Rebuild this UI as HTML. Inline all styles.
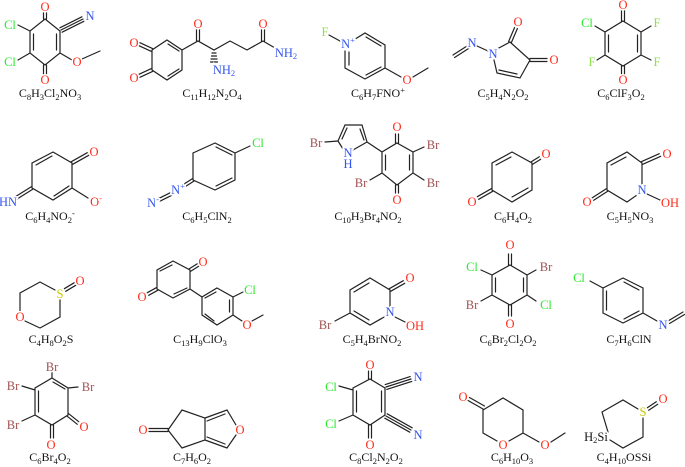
<!DOCTYPE html>
<html><head><meta charset="utf-8"><style>
html,body{margin:0;padding:0;background:#fff}
svg{display:block}
.a{font-family:"Liberation Serif",serif;font-size:12.5px;text-anchor:middle;dominant-baseline:central;paint-order:stroke;stroke:#fff;stroke-width:3px}
.f{font-family:"Liberation Serif",serif;font-size:12px;text-anchor:middle;fill:#111}
.s{font-size:8.5px}
.O{fill:#ff2a1a}.N{fill:#3355ee}.Cl{fill:#2ee82e}.F{fill:#90e050}.Br{fill:#a05050}.S{fill:#c8c800}.K{fill:#111}
</style></head><body>
<svg width="685" height="467" viewBox="0 0 685 467" xmlns="http://www.w3.org/2000/svg">
<g stroke="#222" stroke-width="1.2" fill="none" stroke-linecap="round">
<!-- mol1 -->
<path d="M45,19L60,31L60,53L45,65L30,53L30,31Z M33.5,34V50 M56.5,34V50 M43.5,19V12 M46.5,19V12 M43.5,65V74 M46.5,65V74 M30,31L18,25 M30,53L18,60 M61,30L83,19 M62.1,32.2L84.1,21.2 M59.9,27.8L81.9,16.8 M60,53L72,60 M82,59L100,51"/>
<!-- mol2 -->
<path d="M167,40L182,50L182,70L167,80L152,70L152,50Z M168,44L179,51 M179,69L168,76 M152.6,48.6L139.6,42.6 M151.4,51.4L138.4,45.4 M151.4,68.6L138.4,74.6 M152.6,71.4L139.6,77.4 M182,50L198,41L214,50L230,41L247,50L263,41 M196.5,41V29 M199.5,41V29 M261.5,41V29 M264.5,41V29 M263,41L275,48 M212,53H216 M211.5,56H216.5 M211,59H217 M210.5,62H217.5"/>
<!-- mol3 -->
<path d="M329,35L340,41 M352,41L365,33L385,45L385,68L365,79L345,68L345,51 M349,52V65 M366,37L381,46 M381,67L366,75 M385,68L401,77 M413,77L428,68"/>
<!-- mol4 -->
<path d="M453,55L467,46 M454.6,57.5L468.6,48.5 M477,46L488,51 M497,49L510,42L530,60L520,78L497,73L494,60 M517,74L499,70 M508.6,41.5L514.6,27.5 M511.4,42.5L517.4,28.5 M530,58.5H547 M530,61.5H547"/>
<!-- mol5 -->
<path d="M623,21L641,32L641,55L623,66L605,55L605,32Z M608.5,35V52 M637.5,35V52 M621.5,21V10 M624.5,21V10 M621.5,66V74 M624.5,66V74 M605,32L595,26 M641,32L651,26 M605,55L597,60 M641,55L651,60"/>
<!-- mol6 -->
<path d="M53,152L72,163L72,188L53,200L32,188L32,163Z M36,165L52,156 M69,186L54,196 M71.3,161.7L87.3,152.7 M72.7,164.3L88.7,155.3 M72,188L88,198 M32.7,189.3L16.7,199.3 M31.3,186.7L15.3,196.7"/>
<!-- mol7 -->
<path d="M215,143L235,153L235,180L215,190L193,180L193,153Z M216,147L232,155 M232,178L216,186 M192.3,178.7L181.3,185.7 M193.7,181.3L182.7,188.3 M170.3,192.7L158.3,198.7 M171.7,195.3L159.7,201.3 M235,153L250,146"/>
<!-- mol8 -->
<path d="M325,142L338,141L345,125L362,125L367,142L353,150 M338,141L343,149 M342,139L347,128 M360,129L364,140 M367,142L382,152 M397,143L413,152L413,173L397,185L382,173L382,152Z M385.5,155V170 M409.5,155V170 M395.5,143V134 M398.5,143V134 M395.5,185V193 M398.5,185V193 M413,152L424,147 M413,173L424,180 M382,173L370,180"/>
<!-- mol9 -->
<path d="M512,152L532,163L532,190L512,202L492,190L492,163Z M496,165L511,157 M512,197L528,188 M531.3,161.7L539.3,156.7 M532.7,164.3L540.7,159.3 M491.3,188.7L477.3,196.7 M492.7,191.3L478.7,199.3"/>
<!-- mol10 -->
<path d="M642,184L642,163L627,152L607,163L607,190L627,202L637,195 M611,165L626,157 M641.3,161.7L659.3,153.7 M642.7,164.3L660.7,156.3 M606.3,188.7L592.3,197.7 M607.7,191.3L593.7,200.3 M647,194L660,200"/>
<!-- mol11 -->
<path d="M55,290L40,282L20,293L20,311 M25,321L40,328L60,317L60,299 M64.3,288.7L74.3,282.7 M65.7,291.3L75.7,285.3"/>
<!-- mol12 -->
<path d="M173,261L190,270L190,289L173,298L157,289L157,270Z M160,271L172,265 M187,288L174,294 M189.3,268.7L197.3,263.7 M190.7,271.3L198.7,266.3 M156.3,287.7L147.3,292.7 M157.7,290.3L148.7,295.3 M190,289L202,297 M217,288L233,297L233,315L217,325L202,315L202,297Z M229.5,300V312 M214,321L205,314 M205,298L216,292 M233,297L243,292 M233,315L242,321 M252,321L263,315"/>
<!-- mol13 -->
<path d="M390,307L390,290L370,278L350,290L350,313L370,325L386,316 M354,292L369,283 M354,311L369,320 M389.3,288.7L403.3,280.7 M390.7,291.3L404.7,283.3 M395,317L405,322 M350,313L335,321"/>
<!-- mol14 -->
<path d="M510,265L527,275L527,295L510,305L492,295L492,275Z M495.5,278V292 M523.5,278V292 M508.5,265V254 M511.5,265V254 M508.5,305V316 M511.5,305V316 M492,275L481,270 M527,275L536,270 M492,295L481,301 M527,295L536,301"/>
<!-- mol15 -->
<path d="M623,278L643,288L643,313L623,323L603,313L603,288Z M624,282L639,290 M639,311L624,319 M606.5,291V310 M603,288L590,281 M643,313L657,321 M668,321L683,312 M669.5,323.5L684.5,314.5"/>
<!-- mol16 -->
<path d="M52,378L68,388L68,415L52,425L35,415L35,388Z M53,382L65,389 M38.5,391V412 M52,378V372 M35,390L22,386 M35,415L22,421 M68,388L78,387 M50.5,425V438 M53.5,425V438 M67.3,416.3L77.3,424.3 M68.7,413.7L78.7,421.7"/>
<!-- mol17 -->
<path d="M149,428.5H168 M149,431.5H168 M168,430L182,410L205,418L205,440L182,448L168,430 M205,418L227,410L236,425 M236,435L227,448L205,440 M207,421L225,414 M207,437L225,444"/>
<!-- mol18 -->
<path d="M370,379L385,388L385,415L370,425L353,415L353,388Z M356.5,391V412 M381.5,391V412 M368.5,379V371 M371.5,379V371 M368.5,425V438 M371.5,425V438 M353,390L339,386 M353,415L339,421 M386,387L411,379 M386.8,389.4L411.8,381.4 M385.2,384.6L410.2,376.6 M386,416L411,430 M384.8,418.2L409.8,432.2 M387.2,413.8L412.2,427.8"/>
<!-- mol19 -->
<path d="M468,400.5L483,409 M469.5,397.5L484.5,406 M483,410L503,398L523,410L523,433L509,441 M497,441L483,433L483,410 M523,433L539,442 M551,442L565,433"/>
<!-- mol20 -->
<path d="M608,432L602,412L623,400L638,409 M643,418L643,437L623,448L610,440 M647.3,407.7L656.3,401.7 M648.7,410.3L657.7,404.3"/>
</g>
<g class="lbl">
<!-- mol1 -->
<text class="a O" x="45" y="7">O</text><text class="a O" x="45" y="80">O</text>
<text class="a Cl" x="10" y="25">Cl</text><text class="a Cl" x="10" y="62">Cl</text>
<text class="a N" x="90" y="16">N</text><text class="a O" x="77" y="62">O</text>
<!-- mol2 -->
<text class="a O" x="134" y="43">O</text><text class="a O" x="134" y="78">O</text>
<text class="a O" x="198" y="24">O</text><text class="a O" x="263" y="24">O</text>
<text class="a N" x="286" y="53">NH<tspan class="s" dy="3">2</tspan></text>
<text class="a N" x="224" y="70">NH<tspan class="s" dy="3">2</tspan></text>
<!-- mol3 -->
<text class="a F" x="325" y="32">F</text>
<text class="a N" x="348" y="44">N<tspan class="s" dy="-4">+</tspan></text>
<text class="a O" x="407" y="80">O</text>
<!-- mol4 -->
<text class="a N" x="472" y="43">N</text><text class="a N" x="493" y="54">N</text>
<text class="a O" x="518" y="22">O</text><text class="a O" x="554" y="60">O</text>
<!-- mol5 -->
<text class="a O" x="623" y="5">O</text><text class="a O" x="623" y="80">O</text>
<text class="a Cl" x="587" y="23">Cl</text><text class="a F" x="657" y="23">F</text>
<text class="a F" x="592" y="62">F</text><text class="a F" x="657" y="62">F</text>
<!-- mol6 -->
<text class="a O" x="94" y="152">O</text>
<text class="a O" x="96" y="202">O<tspan class="s" dy="-4">-</tspan></text>
<text class="a N" x="8" y="202">HN</text>
<!-- mol7 -->
<text class="a Cl" x="258" y="143">Cl</text>
<text class="a N" x="178" y="190">N<tspan class="s" dy="-4">+</tspan></text>
<text class="a N" x="153" y="203">N<tspan class="s" dy="-4">-</tspan></text>
<!-- mol8 -->
<text class="a Br" x="316" y="143">Br</text>
<text class="a N" x="348" y="153">N</text><text class="a N" x="348" y="164">H</text>
<text class="a O" x="397" y="127">O</text><text class="a O" x="397" y="200">O</text>
<text class="a Br" x="433" y="145">Br</text><text class="a Br" x="433" y="183">Br</text><text class="a Br" x="361" y="183">Br</text>
<!-- mol9 -->
<text class="a O" x="546" y="154">O</text><text class="a O" x="472" y="202">O</text>
<!-- mol10 -->
<text class="a N" x="642" y="190">N</text>
<text class="a O" x="667" y="154">O</text><text class="a O" x="587" y="202">O</text>
<text class="a O" x="670" y="203">OH</text>
<!-- mol11 -->
<text class="a S" x="60" y="294">S</text><text class="a O" x="80" y="281">O</text>
<text class="a O" x="20" y="317">O</text>
<!-- mol12 -->
<text class="a O" x="203" y="262">O</text><text class="a O" x="142" y="297">O</text>
<text class="a Cl" x="250" y="290">Cl</text><text class="a O" x="247" y="325">O</text>
<!-- mol13 -->
<text class="a O" x="410" y="278">O</text><text class="a N" x="390" y="312">N</text>
<text class="a O" x="415" y="326">OH</text><text class="a Br" x="325" y="325">Br</text>
<!-- mol14 -->
<text class="a O" x="510" y="245">O</text><text class="a O" x="510" y="324">O</text>
<text class="a Cl" x="472" y="267">Cl</text><text class="a Br" x="546" y="267">Br</text>
<text class="a Br" x="472" y="305">Br</text><text class="a Cl" x="546" y="305">Cl</text>
<!-- mol15 -->
<text class="a Cl" x="579" y="278">Cl</text><text class="a N" x="663" y="325">N</text>
<!-- mol16 -->
<text class="a Br" x="52" y="367">Br</text><text class="a Br" x="13" y="386">Br</text>
<text class="a Br" x="88" y="387">Br</text><text class="a Br" x="13" y="425">Br</text>
<text class="a O" x="51" y="445">O</text><text class="a O" x="84" y="427">O</text>
<!-- mol17 -->
<text class="a O" x="143" y="430">O</text><text class="a O" x="240" y="430">O</text>
<!-- mol18 -->
<text class="a O" x="370" y="365">O</text><text class="a O" x="370" y="445">O</text>
<text class="a Cl" x="331" y="387">Cl</text><text class="a Cl" x="331" y="424">Cl</text>
<text class="a N" x="418" y="377">N</text><text class="a N" x="418" y="435">N</text>
<!-- mol19 -->
<text class="a O" x="463" y="397">O</text><text class="a O" x="503" y="445">O</text>
<text class="a O" x="545" y="445">O</text>
<!-- mol20 -->
<text class="a S" x="643" y="412">S</text><text class="a O" x="663" y="399">O</text>
<text class="a K" x="596" y="437">H<tspan class="s" dy="3">2</tspan><tspan dy="-3">Si</tspan></text>
</g>
<g>
<text class="f" x="50" y="97">C<tspan class="s" dy="3">8</tspan><tspan dy="-3">H</tspan><tspan class="s" dy="3">3</tspan><tspan dy="-3">Cl</tspan><tspan class="s" dy="3">2</tspan><tspan dy="-3">NO</tspan><tspan class="s" dy="3">3</tspan></text>
<text class="f" x="212" y="97">C<tspan class="s" dy="3">11</tspan><tspan dy="-3">H</tspan><tspan class="s" dy="3">12</tspan><tspan dy="-3">N</tspan><tspan class="s" dy="3">2</tspan><tspan dy="-3">O</tspan><tspan class="s" dy="3">4</tspan></text>
<text class="f" x="378" y="97">C<tspan class="s" dy="3">6</tspan><tspan dy="-3">H</tspan><tspan class="s" dy="3">7</tspan><tspan dy="-3">FNO</tspan><tspan class="s" dy="-4">+</tspan></text>
<text class="f" x="503" y="97">C<tspan class="s" dy="3">5</tspan><tspan dy="-3">H</tspan><tspan class="s" dy="3">4</tspan><tspan dy="-3">N</tspan><tspan class="s" dy="3">2</tspan><tspan dy="-3">O</tspan><tspan class="s" dy="3">2</tspan></text>
<text class="f" x="621" y="97">C<tspan class="s" dy="3">6</tspan><tspan dy="-3">ClF</tspan><tspan class="s" dy="3">3</tspan><tspan dy="-3">O</tspan><tspan class="s" dy="3">2</tspan></text>

<text class="f" x="50" y="220">C<tspan class="s" dy="3">6</tspan><tspan dy="-3">H</tspan><tspan class="s" dy="3">4</tspan><tspan dy="-3">NO</tspan><tspan class="s" dy="3">2</tspan><tspan class="s" dy="-7">-</tspan></text>
<text class="f" x="207" y="220">C<tspan class="s" dy="3">6</tspan><tspan dy="-3">H</tspan><tspan class="s" dy="3">5</tspan><tspan dy="-3">ClN</tspan><tspan class="s" dy="3">2</tspan></text>
<text class="f" x="368" y="220">C<tspan class="s" dy="3">10</tspan><tspan dy="-3">H</tspan><tspan class="s" dy="3">3</tspan><tspan dy="-3">Br</tspan><tspan class="s" dy="3">4</tspan><tspan dy="-3">NO</tspan><tspan class="s" dy="3">2</tspan></text>
<text class="f" x="513" y="220">C<tspan class="s" dy="3">6</tspan><tspan dy="-3">H</tspan><tspan class="s" dy="3">4</tspan><tspan dy="-3">O</tspan><tspan class="s" dy="3">2</tspan></text>
<text class="f" x="630" y="220">C<tspan class="s" dy="3">5</tspan><tspan dy="-3">H</tspan><tspan class="s" dy="3">5</tspan><tspan dy="-3">NO</tspan><tspan class="s" dy="3">3</tspan></text>

<text class="f" x="51" y="343">C<tspan class="s" dy="3">4</tspan><tspan dy="-3">H</tspan><tspan class="s" dy="3">8</tspan><tspan dy="-3">O</tspan><tspan class="s" dy="3">2</tspan><tspan dy="-3">S</tspan></text>
<text class="f" x="200" y="343">C<tspan class="s" dy="3">13</tspan><tspan dy="-3">H</tspan><tspan class="s" dy="3">9</tspan><tspan dy="-3">ClO</tspan><tspan class="s" dy="3">3</tspan></text>
<text class="f" x="372" y="343">C<tspan class="s" dy="3">5</tspan><tspan dy="-3">H</tspan><tspan class="s" dy="3">4</tspan><tspan dy="-3">BrNO</tspan><tspan class="s" dy="3">2</tspan></text>
<text class="f" x="508" y="343">C<tspan class="s" dy="3">6</tspan><tspan dy="-3">Br</tspan><tspan class="s" dy="3">2</tspan><tspan dy="-3">Cl</tspan><tspan class="s" dy="3">2</tspan><tspan dy="-3">O</tspan><tspan class="s" dy="3">2</tspan></text>
<text class="f" x="629" y="343">C<tspan class="s" dy="3">7</tspan><tspan dy="-3">H</tspan><tspan class="s" dy="3">6</tspan><tspan dy="-3">ClN</tspan></text>

<text class="f" x="50" y="461">C<tspan class="s" dy="3">6</tspan><tspan dy="-3">Br</tspan><tspan class="s" dy="3">4</tspan><tspan dy="-3">O</tspan><tspan class="s" dy="3">2</tspan></text>
<text class="f" x="192" y="461">C<tspan class="s" dy="3">7</tspan><tspan dy="-3">H</tspan><tspan class="s" dy="3">6</tspan><tspan dy="-3">O</tspan><tspan class="s" dy="3">2</tspan></text>
<text class="f" x="376" y="461">C<tspan class="s" dy="3">8</tspan><tspan dy="-3">Cl</tspan><tspan class="s" dy="3">2</tspan><tspan dy="-3">N</tspan><tspan class="s" dy="3">2</tspan><tspan dy="-3">O</tspan><tspan class="s" dy="3">2</tspan></text>
<text class="f" x="512" y="461">C<tspan class="s" dy="3">6</tspan><tspan dy="-3">H</tspan><tspan class="s" dy="3">10</tspan><tspan dy="-3">O</tspan><tspan class="s" dy="3">3</tspan></text>
<text class="f" x="624" y="461">C<tspan class="s" dy="3">4</tspan><tspan dy="-3">H</tspan><tspan class="s" dy="3">10</tspan><tspan dy="-3">OSSi</tspan></text>
</g>
</svg>
</body></html>
